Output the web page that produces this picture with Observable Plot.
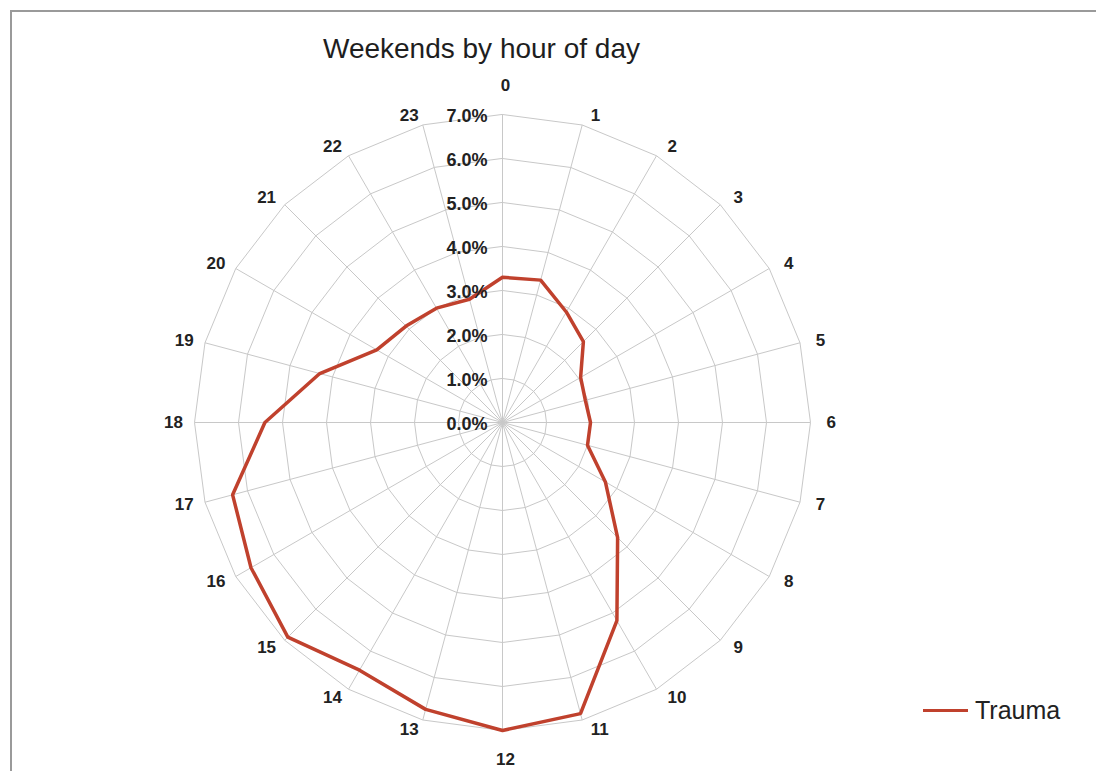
<!DOCTYPE html>
<html>
<head>
<meta charset="utf-8">
<script src="https://cdn.jsdelivr.net/npm/d3@7"></script>
<script src="https://cdn.jsdelivr.net/npm/@observablehq/plot@0.6"></script>
<style>
  body { margin: 0; background: #fff; font-family: "Liberation Sans", Arial, sans-serif; }
  #wrap { position: relative; width: 1096px; height: 771px; overflow: hidden; background: #fff; }
  #frame { position: absolute; left: 10px; top: 10px; width: 1300px; height: 1000px;
           border-top: 2px solid #9a9a9a; border-left: 2px solid #9a9a9a; }
  #title { position: absolute; left: 0; top: 31px; width: 963px; text-align: center;
           font-size: 28px; line-height: 36px; color: #1e1e1e; }
  #chart { position: absolute; left: 0; top: 70px; }
  #legend { position: absolute; left: 923px; top: 696px; display: flex; align-items: center;
            font-size: 25px; line-height: 29px; color: #222; }
  #legend .sw { width: 45px; height: 3.5px; background: #c0412d; margin-right: 7px; }
</style>
</head>
<body>
<div id="wrap">
  <div id="frame"></div>
  <div id="title">Weekends by hour of day</div>
  <div id="chart"></div>
  <div id="legend"><span class="sw"></span><span>Trauma</span></div>
</div>
<script>
// Categories: hour of day
const hours = [0, 1, 2, 3, 4, 5, 6, 7, 8, 9, 10, 11, 12, 13, 14, 15, 16, 17, 18, 19, 20, 21, 22, 23];
// Series: Trauma share (%) on weekends by hour
const trauma = [3.3, 3.35, 2.9, 2.6, 2.05, 1.95, 2.0, 2.0, 2.7, 3.7, 5.2, 6.85,
                7.0, 6.75, 6.5, 6.9, 6.6, 6.35, 5.4, 4.3, 3.3, 3.1, 3.0, 2.9];
// Radial axis ticks
const tickValues = [0, 1, 2, 3, 4, 5, 6, 7];
const tickLabels = ["0.0%", "1.0%", "2.0%", "3.0%", "4.0%", "5.0%", "6.0%", "7.0%"];
const seriesName = "Trauma";

const rMax = 7;
const rad = h => h * 15 * Math.PI / 180;
const px = (r, h) => r * Math.sin(rad(h));
const py = (r, h) => r * Math.cos(rad(h));
const side = h => Math.round(Math.sin(rad(h)) * 1000) / 1000;

const data = hours.map((h, i) => ({hour: h, value: trauma[i], series: seriesName}));
const ringData = tickValues.filter(v => v > 0).flatMap(v => hours.map(h => ({ring: v, hour: h})));

const labelR = 7.23;   // radius (in axis units) where category labels attach
const labelRV = 7.66;  // for labels straight above / below the centre
const labelStyle = {fontSize: 17, fontWeight: "bold", fill: "#222", text: h => String(h)};

const chart = Plot.plot({
  width: 1096,
  height: 701,
  marginLeft: 194,
  marginRight: 286,
  marginTop: 44,
  marginBottom: 41,
  x: {domain: [-rMax, rMax], axis: null},
  y: {domain: [-rMax, rMax], axis: null},
  style: {fontFamily: "'Liberation Sans', Arial, sans-serif", background: "transparent", overflow: "visible"},
  marks: [
    // polygon gridlines
    Plot.line(ringData, {
      x: d => px(d.ring, d.hour),
      y: d => py(d.ring, d.hour),
      z: "ring",
      curve: "linear-closed",
      stroke: "#c8c8c8",
      strokeWidth: 1
    }),
    // spokes
    Plot.link(hours, {
      x1: 0, y1: 0,
      x2: h => px(rMax, h),
      y2: h => py(rMax, h),
      stroke: "#c8c8c8",
      strokeWidth: 1
    }),
    // series line
    Plot.line(data, {
      x: d => px(d.value, d.hour),
      y: d => py(d.value, d.hour),
      curve: "linear-closed",
      stroke: "#c0412d",
      strokeWidth: 3.5,
      strokeLinejoin: "miter"
    }),
    // radial tick labels
    Plot.text(tickValues, {
      x: 0,
      y: d => d,
      text: (d, i) => tickLabels[i],
      textAnchor: "end",
      dx: -15,
      dy: 2,
      fontSize: 18,
      fontWeight: "bold",
      fill: "#222"
    }),
    // hour labels, right half
    Plot.text(hours, {
      ...labelStyle,
      filter: h => side(h) > 0,
      x: h => px(labelR, h),
      y: h => py(labelR, h),
      textAnchor: "start",
      dx: 6
    }),
    // hour labels, left half
    Plot.text(hours, {
      ...labelStyle,
      filter: h => side(h) < 0,
      x: h => px(labelR, h),
      y: h => py(labelR, h),
      textAnchor: "end",
      dx: -1.5
    }),
    // hour labels, top and bottom
    Plot.text(hours, {
      ...labelStyle,
      filter: h => side(h) === 0,
      x: h => px(labelRV, h),
      y: h => py(labelRV, h),
      textAnchor: "middle",
      dx: 3
    })
  ]
});
document.getElementById("chart").appendChild(chart);
</script>
</body>
</html>
